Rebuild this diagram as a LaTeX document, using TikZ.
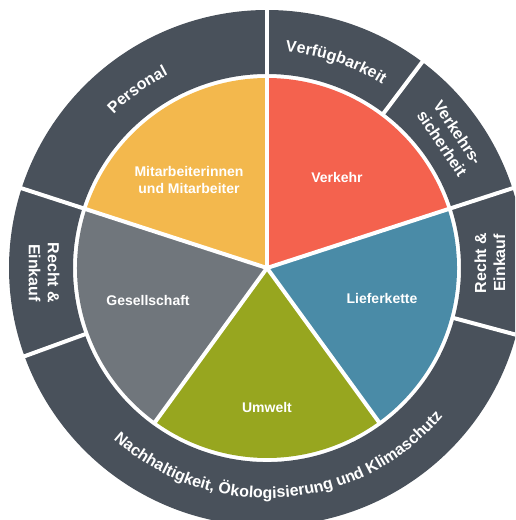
\documentclass[tikz,border=0pt]{standalone}
\usepackage{fontspec}
\setmainfont{Liberation Sans}
\usetikzlibrary{decorations.text}
\definecolor{slate}{HTML}{49515B}
\definecolor{sunyellow}{HTML}{F3B84D}
\definecolor{coral}{HTML}{F4624E}
\definecolor{steelblue}{HTML}{4A8BA7}
\definecolor{olivegreen}{HTML}{97A61F}
\definecolor{stone}{HTML}{70767C}

\begin{document}
\begin{tikzpicture}[x=1pt,y=1pt,
    lbl/.style={text=white,font=\bfseries\fontsize{14}{17}\selectfont,align=center},
    ringlbl/.style={text=white,font=\bfseries\fontsize{16}{19}\selectfont,align=center},
    arclbl/.style={decorate,decoration={text along path,text align=center,
      text={|\color{white}\bfseries\fontsize{16}{19}\selectfont|#1}}}]
  \clip (0,0) rectangle (515,520);
  \begin{scope}[shift={(267,252)}]
    % outer ring
    \foreach \a/\b in {90/162,53/90,18/53,-15/18,-160/-15,162/200}
      \fill[slate] (\a:194) arc[start angle=\a,end angle=\b,radius=194]
        -- (\b:258) arc[start angle=\b,end angle=\a,radius=258] -- cycle;
    \foreach \a in {90,53,18,-15,-160,162}
      \draw[white,line width=4pt] (\a:192) -- (\a:262);
    % pie
    \foreach \a/\b/\c in {90/162/sunyellow,18/90/coral,-54/18/steelblue,-126/-54/olivegreen,162/234/stone}
      \fill[\c] (0,0) -- (\a:190) arc[start angle=\a,end angle=\b,radius=190] -- cycle;
    \foreach \a in {90,18,-54,-126,162}
      \draw[white,line width=4pt] (0,0) -- (\a:192);
    \node[lbl] (mitarb) at (-78,88) {Mitarbeiterinnen\\und Mitarbeiter};
    \node[lbl] (verkehr) at (70,91) {Verkehr};
    \node[lbl] (liefer) at (115,-30) {Lieferkette};
    \node[lbl] (umwelt) at (0,-139) {Umwelt};
    \node[lbl] (gesell) at (-119,-32) {Gesellschaft};
    % ring labels
    \node[ringlbl,rotate=-56] (sicher) at (183,130) {Verkehrs-\\sicherheit};
    \node[ringlbl,rotate=90] (rechtr) at (223,5) {Recht \&\\Einkauf};
    \node[ringlbl,rotate=-90] (rechtl) at (-223,-5) {Recht \&\\Einkauf};
    \path[arclbl=Personal] (162:217) arc[start angle=162,end angle=90,radius=217];
    \path[arclbl=Verfügbarkeit] (90:217) arc[start angle=90,end angle=53,radius=217];
    \path[arclbl={Nachhaltigkeit, Ökologisierung und Klimaschutz}]
      (202:230) arc[start angle=202,end angle=346,radius=230];
  \end{scope}
\end{tikzpicture}
\end{document}
